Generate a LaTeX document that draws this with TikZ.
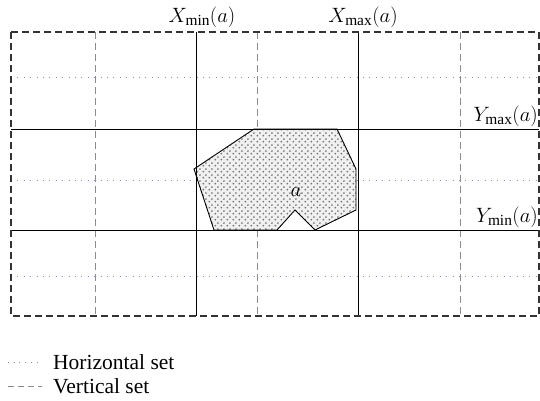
\documentclass[tikz,border=0pt]{standalone}
\usepackage{fontspec}
\setmainfont{Liberation Serif}
\usetikzlibrary{patterns.meta}
\definecolor{hsetcol}{rgb}{0.55,0.55,0.72}
\tikzdeclarepattern{name=regdots, type=uncolored,
  bounding box={(0pt,0pt) and (5.6pt,5.6pt)}, tile size={(5.6pt,5.6pt)},
  code={\fill (1.4pt,1.4pt) circle (1pt); \fill (4.2pt,4.2pt) circle (1pt);}}

\begin{document}
\begin{tikzpicture}[x=1pt,y=-1pt,
    frame/.style={line width=1.1pt, black!80, dash pattern=on 7pt off 4pt},
    hset/.style={line width=0.9pt, hsetcol, dash pattern=on 0.9pt off 5.5pt},
    vset/.style={line width=0.8pt, black!45, dash pattern=on 7pt off 4pt},
    bound/.style={line width=0.9pt, black},
    lbl/.style={font=\fontsize{22}{26}\selectfont, inner sep=1pt},
    leg/.style={font=\fontsize{21.5}{26}\selectfont, inner sep=1pt, anchor=west}]
  \useasboundingbox (0,0) rectangle (540,400);
  % Horizontal set
  \foreach \y in {77,180,276}
    \draw[hset] (11,\y) -- (539,\y);
  % Vertical set
  \foreach \x in {95,257,460}
    \draw[vset] (\x,32) -- (\x,316);
  % Region a
  \fill[black!6] (254,129) -- (337,129) -- (356,169) -- (356,210) -- (315,230)
        -- (295,210) -- (277,230) -- (214,230) -- (194,169) -- cycle;
  \fill[pattern=regdots, pattern color=black!55] (254,129) -- (337,129)
        -- (356,169) -- (356,210) -- (315,230) -- (295,210) -- (277,230)
        -- (214,230) -- (194,169) -- cycle;
  \draw[bound, line join=miter] (254,129) -- (337,129) -- (356,169) -- (356,210)
        -- (315,230) -- (295,210) -- (277,230) -- (214,230) -- (194,169) -- cycle;
  \node[lbl] (reg) at (296,192) {$a$};
  % Bounds
  \draw[bound] (196,32) -- (196,316);
  \draw[bound] (358,32) -- (358,316);
  \draw[bound] (11,129) -- (539,129);
  \draw[bound] (11,230) -- (539,230);
  % Frame
  \draw[frame] (11,32) rectangle (539,316);
  % Labels
  \node[lbl, anchor=south] (xmin) at (202,29) {$X_{\min}(a)$};
  \node[lbl, anchor=south] (xmax) at (363,29) {$X_{\max}(a)$};
  \node[lbl, anchor=south east] (ymax) at (539,128) {$Y_{\max}(a)$};
  \node[lbl, anchor=south east] (ymin) at (539,229) {$Y_{\min}(a)$};
  % Legend
  \draw[hset, line width=0.7pt, dash pattern=on 0.7pt off 5pt] (8,362) -- (42,362);
  \draw[vset, dash pattern=on 6pt off 4pt] (8,386) -- (42,386);
  \node[leg] (hleg) at (52,362) {Horizontal set};
  \node[leg] (vleg) at (52,386) {Vertical set};
\end{tikzpicture}
\end{document}
